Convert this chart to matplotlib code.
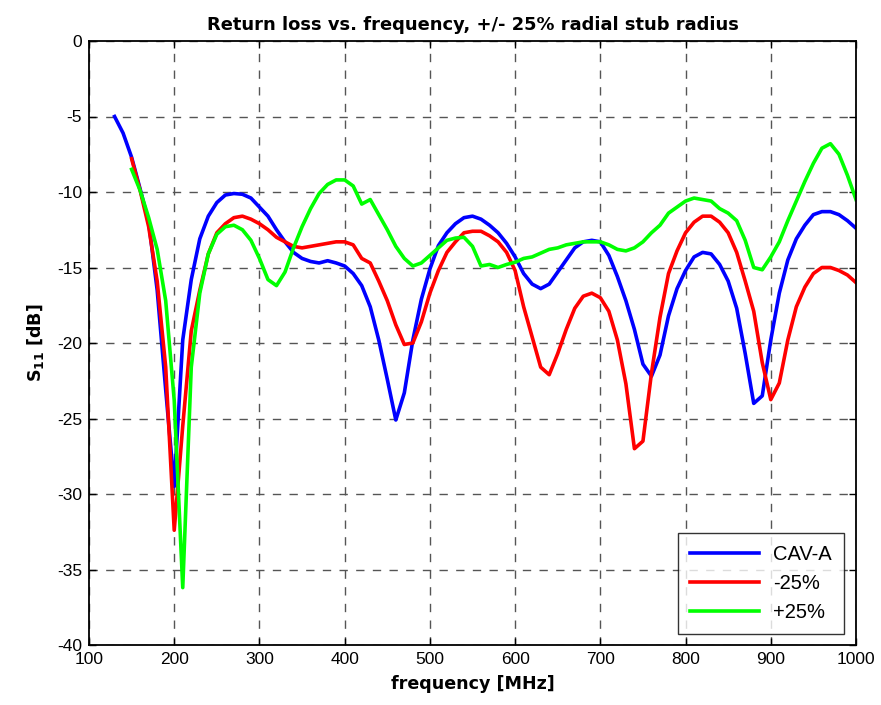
import numpy as np
import matplotlib
matplotlib.use("Agg")
import matplotlib.pyplot as plt

plt.rcParams["axes.unicode_minus"] = False

# CAV-A, 130..1000 MHz step 10
freq_cav = list(range(130, 1001, 10))
s11_cav = [-5.0, -6.1, -7.7, -9.8, -12.0, -16.5, -23.1, -29.5, -19.8, -15.8,
           -13.1, -11.6, -10.7, -10.2, -10.1, -10.15, -10.4, -11.0, -11.6, -12.5,
           -13.3, -14.0, -14.4, -14.6, -14.7, -14.55, -14.7, -14.9, -15.4, -16.2,
           -17.6, -19.8, -22.4, -25.1, -23.3, -19.8, -17.1, -15.1, -13.55, -12.7,
           -12.1, -11.7, -11.6, -11.8, -12.2, -12.7, -13.4, -14.3, -15.4, -16.1,
           -16.4, -16.1, -15.3, -14.5, -13.7, -13.3, -13.2, -13.3, -14.2, -15.6,
           -17.2, -19.1, -21.4, -22.2, -20.8, -18.2, -16.4, -15.2, -14.3, -14.0,
           -14.1, -14.8, -15.9, -17.7, -20.7, -24.0, -23.5, -19.8, -16.7, -14.5,
           -13.1, -12.2, -11.5, -11.3, -11.3, -11.5, -11.9, -12.4]

# -25% and +25%, 150..1000 MHz step 10
freq_var = list(range(150, 1001, 10))
s11_minus = [-7.8, -9.9, -12.3, -15.9, -21.6, -32.4, -25.5, -19.2, -16.5, -14.1,
             -12.7, -12.1, -11.7, -11.6, -11.8, -12.1, -12.5, -13.0, -13.3, -13.6,
             -13.7, -13.6, -13.5, -13.4, -13.3, -13.3, -13.5, -14.4, -14.7, -15.9,
             -17.2, -18.8, -20.1, -20.0, -18.6, -16.7, -15.2, -14.0, -13.3, -12.7,
             -12.6, -12.6, -12.9, -13.3, -14.0, -15.2, -17.6, -19.6, -21.6, -22.1,
             -20.7, -19.1, -17.7, -16.9, -16.7, -17.0, -17.9, -19.8, -22.7, -27.0,
             -26.5, -22.0, -18.3, -15.4, -13.9, -12.7, -12.0, -11.6, -11.6, -12.0,
             -12.7, -14.0, -15.9, -17.9, -21.3, -23.75, -22.65, -19.8, -17.6, -16.3,
             -15.4, -15.0, -15.0, -15.2, -15.5, -16.0]
s11_plus = [-8.5, -9.9, -11.7, -13.8, -17.2, -23.8, -36.2, -21.6, -16.7, -14.1,
            -12.8, -12.3, -12.2, -12.5, -13.2, -14.4, -15.8, -16.2, -15.3, -13.7,
            -12.3, -11.1, -10.1, -9.5, -9.2, -9.2, -9.6, -10.8, -10.5, -11.5,
            -12.5, -13.6, -14.4, -14.9, -14.7, -14.2, -13.7, -13.2, -13.05, -13.0,
            -13.6, -14.9, -14.8, -15.0, -14.8, -14.65, -14.4, -14.3, -14.05, -13.8,
            -13.7, -13.5, -13.4, -13.3, -13.3, -13.3, -13.5, -13.8, -13.9, -13.7,
            -13.3, -12.7, -12.2, -11.4, -11.0, -10.6, -10.4, -10.5, -10.6, -11.1,
            -11.4, -11.9, -13.2, -15.0, -15.15, -14.3, -13.3, -11.9, -10.6, -9.3,
            -8.1, -7.1, -6.8, -7.5, -8.9, -10.5]

series_labels = ["CAV-A", "-25%", "+25%"]
xticks = list(range(100, 1001, 100))
yticks = list(range(-40, 1, 5))

fig = plt.figure(figsize=(8.81, 7.05), dpi=100)
ax = fig.add_axes([89/881, 1-645/705, (856-89)/881, (645-41)/705])

ax.plot(freq_cav, s11_cav, color="#0000ff", lw=2.6, label=series_labels[0])
ax.plot(freq_var, s11_minus, color="#ff0000", lw=2.6, label=series_labels[1])
ax.plot(freq_var, s11_plus, color="#00ff00", lw=2.6, label=series_labels[2])

ax.set_xlim(100, 1000)
ax.set_ylim(-40, 0)
ax.set_xticks(xticks)
ax.set_yticks(yticks)
tick_font = "Liberation Sans"
for lab in ax.get_xticklabels() + ax.get_yticklabels():
    lab.set_fontfamily(tick_font)
    lab.set_fontsize(12.5)
ax.tick_params(direction="in", length=5, width=1, top=True, right=True, pad=5)
ax.grid(True, color="#555555", linestyle=(0, (6, 6)), linewidth=1.0)
for sp in ax.spines.values():
    sp.set_linewidth(1.3)

ax.set_title("Return loss vs. frequency, +/- 25% radial stub radius",
             fontsize=12.9, fontweight="bold", family="DejaVu Sans", pad=8)
ax.set_xlabel("frequency [MHz]", fontsize=12.6, fontweight="bold", family="DejaVu Sans", labelpad=6)
ax.set_ylabel(r"$\mathbf{S_{11}}$ [dB]", fontsize=12.6, fontweight="bold", family="DejaVu Sans", labelpad=8)

leg = ax.legend(loc="lower right", bbox_to_anchor=(0.984, 0.018), frameon=True, fancybox=False,
                edgecolor="black", prop={"family": tick_font, "size": 14.5},
                handlelength=3.4, borderpad=0.6, labelspacing=0.5, handletextpad=0.7,
                borderaxespad=0.0)
leg.get_frame().set_linewidth(1.0)

fig.savefig("out.png", dpi=100)
